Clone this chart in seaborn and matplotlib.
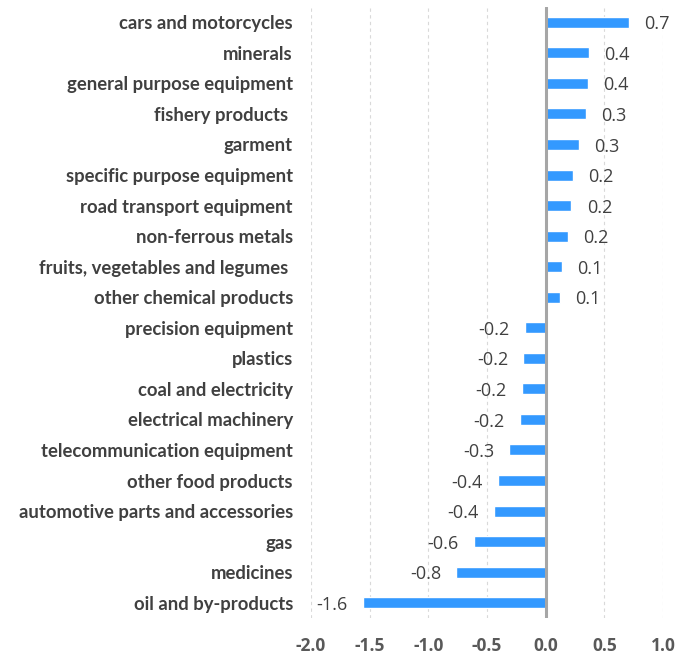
import matplotlib
matplotlib.use("Agg")
import matplotlib.pyplot as plt
import seaborn as sns
import pandas as pd

categories = [
    "cars and motorcycles",
    "minerals",
    "general purpose equipment",
    "fishery products ",
    "garment",
    "specific purpose equipment",
    "road transport equipment",
    "non-ferrous metals",
    "fruits, vegetables and legumes ",
    "other chemical products",
    "precision equipment",
    "plastics",
    "coal and electricity",
    "electrical machinery",
    "telecommunication equipment",
    "other food products",
    "automotive parts and accessories",
    "gas",
    "medicines",
    "oil and by-products",
]
values = [0.71, 0.37, 0.36, 0.34, 0.28, 0.23, 0.22, 0.19, 0.14, 0.12,
          -0.18, -0.19, -0.20, -0.22, -0.31, -0.41, -0.44, -0.61, -0.76, -1.56]
x_ticks = [-2.0, -1.5, -1.0, -0.5, 0.0, 0.5, 1.0]

df = pd.DataFrame({"category": categories, "value": values})

sns.set_theme(style="white")
plt.rcParams["font.family"] = ["Lato", "DejaVu Sans"]

fig = plt.figure(figsize=(6.96, 6.57), dpi=100)
ax = fig.add_axes([311 / 696, 1 - 618 / 657, 352 / 696, 611 / 657])

sns.barplot(data=df, x="value", y="category", orient="h", color="#3399FF",
            width=0.36, saturation=1, ax=ax, zorder=3)

ax.set_xlim(-2.0, 1.0)
ax.set_xticks(x_ticks)
ax.set_xticklabels([f"{t:.1f}" for t in x_ticks], fontweight="bold",
                   color="#595959", fontsize=12.5, family=["Open Sans", "DejaVu Sans"])
ax.tick_params(axis="x", length=0, pad=14)
ax.tick_params(axis="y", length=0, pad=13)
for lab in ax.get_yticklabels():
    lab.set_fontweight("bold")
    lab.set_color("#404040")
    lab.set_fontsize(13.3)

ax.set_xlabel("")
ax.set_ylabel("")
for s in ax.spines.values():
    s.set_visible(False)

ax.xaxis.grid(True, color="#d9d9d9", linestyle=(0, (3, 3)), linewidth=0.8, zorder=0)
ax.yaxis.grid(False)
ax.axvline(0, color="#a6a6a6", linewidth=2.2, zorder=4)

for i, v in enumerate(values):
    ha = "left" if v >= 0 else "right"
    off = 11 if v >= 0 else -11
    ax.annotate(f"{v:.1f}", xy=(v, i), xytext=(off, -1.5), textcoords="offset points",
                ha=ha, va="center", fontsize=13, color="#404040",
                family=["Open Sans", "DejaVu Sans"], annotation_clip=False)

fig.savefig("out.png", dpi=100)
